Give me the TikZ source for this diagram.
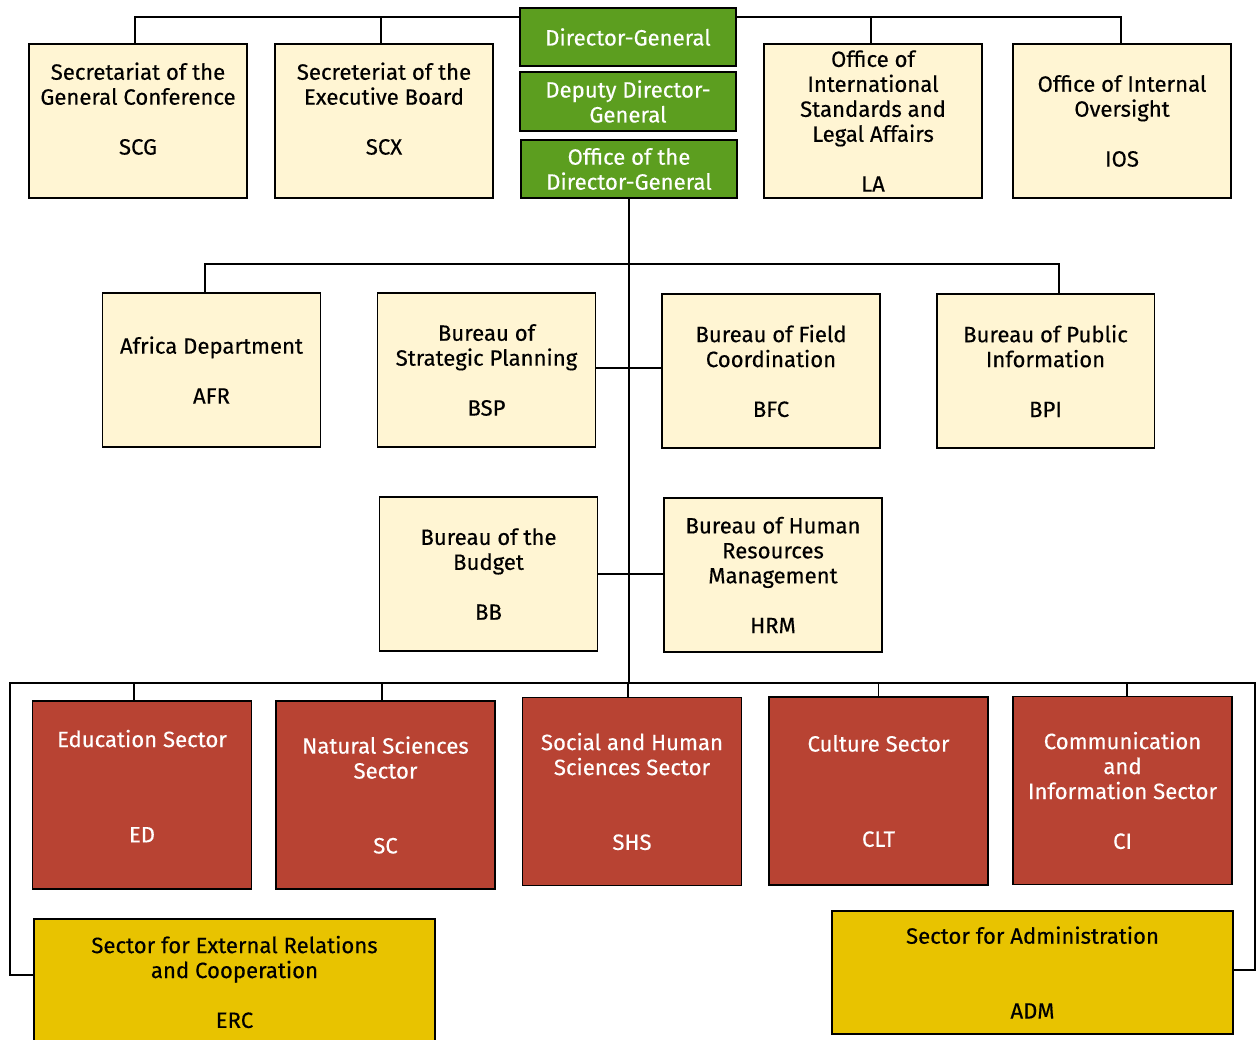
\documentclass[tikz,border=0pt]{standalone}
\usepackage{fontspec}
\setmainfont{Fira Sans}
\newfontfamily\unitfont{Fira Sans}[UprightFeatures={FakeBold=0.35}]
\usetikzlibrary{backgrounds}
\definecolor{unitcream}{HTML}{FFF5D3}
\definecolor{unitgreen}{HTML}{5C9E1F}
\definecolor{unitred}{HTML}{B84333}
\definecolor{unitgold}{HTML}{E8C300}
\tikzset{
  unit/.style={draw=black, line width=1.1pt, align=center, inner sep=0pt,
    font=\unitfont\fontsize{12.6}{14.2}\selectfont},
  office/.style={unit, fill=unitcream, text=black,
    minimum width=4.36cm, minimum height=3.08cm},
  head/.style={unit, fill=unitgreen, text=white,
    minimum width=4.32cm, minimum height=1.16cm},
  sector/.style={unit, fill=unitred, text=white,
    minimum width=4.38cm, minimum height=3.76cm},
  support/.style={unit, fill=unitgold, text=black,
    minimum width=8.02cm},
  link/.style={line width=1.1pt}
}
\begin{document}
\begin{tikzpicture}[x=0.02cm, y=-0.02cm]
\useasboundingbox (0,0) rectangle (1257,1040);

% direction
\node[head] (dg) at (628,37) {Director-General};
\node[head, minimum height=1.18cm] (ddg) at (628,101.5) {Deputy Director-\\General};
\node[head] (odg) at (629,169) {Office of the\\Director-General};

% offices attached to the Director-General
\node[office] (scg) at (138,121) {Secretariat of the\\General Conference\\[14.2pt]SCG\\ \mbox{}};
\node[office] (scx) at (384,121) {Secreteriat of the\\Executive Board\\[14.2pt]SCX\\ \mbox{}};
\node[office] (la) at (873,121) {Office of\\International\\Standards and\\Legal Affairs\\[14.2pt]LA};
\node[office] (ios) at (1122,121) {Office of Internal\\Oversight\\[14.2pt]IOS};

% bureaux
\node[office] (afr) at (211.5,370) {Africa Department\\[14.2pt]AFR};
\node[office] (bsp) at (486.5,370) {Bureau of\\Strategic Planning\\[14.2pt]BSP};
\node[office] (bfc) at (771,371) {Bureau of Field\\Coordination\\[14.2pt]BFC};
\node[office] (bpi) at (1045.5,371) {Bureau of Public\\Information\\[14.2pt]BPI};
\node[office] (bb) at (488.5,574) {Bureau of the\\Budget\\[14.2pt]BB};
\node[office] (hrm) at (773,575) {Bureau of Human\\Resources\\Management\\[14.2pt]HRM};

% programme sectors
\node[sector] (ed) at (142,795) {Education Sector\\[40pt]ED\\[-4pt]\mbox{}};
\node[sector] (sc) at (385.5,795) {Natural Sciences\\Sector\\[28.4pt]SC};
\node[sector] (shs) at (632,791.5) {Social and Human\\Sciences Sector\\[28.4pt]SHS};
\node[sector] (clt) at (878.5,791) {Culture Sector\\[40pt]CLT};
\node[sector] (ci) at (1122.5,790.5) {Communication\\and\\Information Sector\\[14.2pt]CI};

% support sectors
\node[support, minimum height=2.52cm] (erc) at (234.5,982) {Sector for External Relations\\and Cooperation\\[14.2pt]ERC};
\node[support, minimum height=2.46cm] (adm) at (1032.5,972.5) {Sector for Administration\\[28.4pt]ADM};

\begin{scope}[on background layer]
\coordinate (busL) at (10,683);
\coordinate (busR) at (1255,683);
\draw[link] ([xshift=-0.06cm]scg.north) -- ++(0,-26) -| ([xshift=-0.02cm]ios.north);
\draw[link] ([xshift=-0.06cm]scx.north) -- ++(0,-26);
\draw[link] ([xshift=-0.04cm]la.north) -- ++(0,-26);
\draw[link] (odg.south) -- (odg.south |- busL);
\draw[link] ([xshift=-0.13cm]afr.north) -- ++(0,-28) -| ([xshift=0.27cm]bpi.north);
\draw[link] ([yshift=0.04cm]bsp.east) -- ([yshift=0.04cm]bsp.east -| bfc.west);
\draw[link] (bb.east) -- (bb.east -| hrm.west);
\draw[link] ([yshift=0.14cm]erc.west) -| (busL) -- (busR) |- ([yshift=0.05cm]adm.east);
\foreach \s/\dx in {ed/-0.16,sc/-0.07,shs/-0.08,clt/0,ci/0.09}
  \draw[link] ([xshift=\dx cm]\s.north) -- ([xshift=\dx cm]\s.north |- busL);
\end{scope}
\end{tikzpicture}
\end{document}
